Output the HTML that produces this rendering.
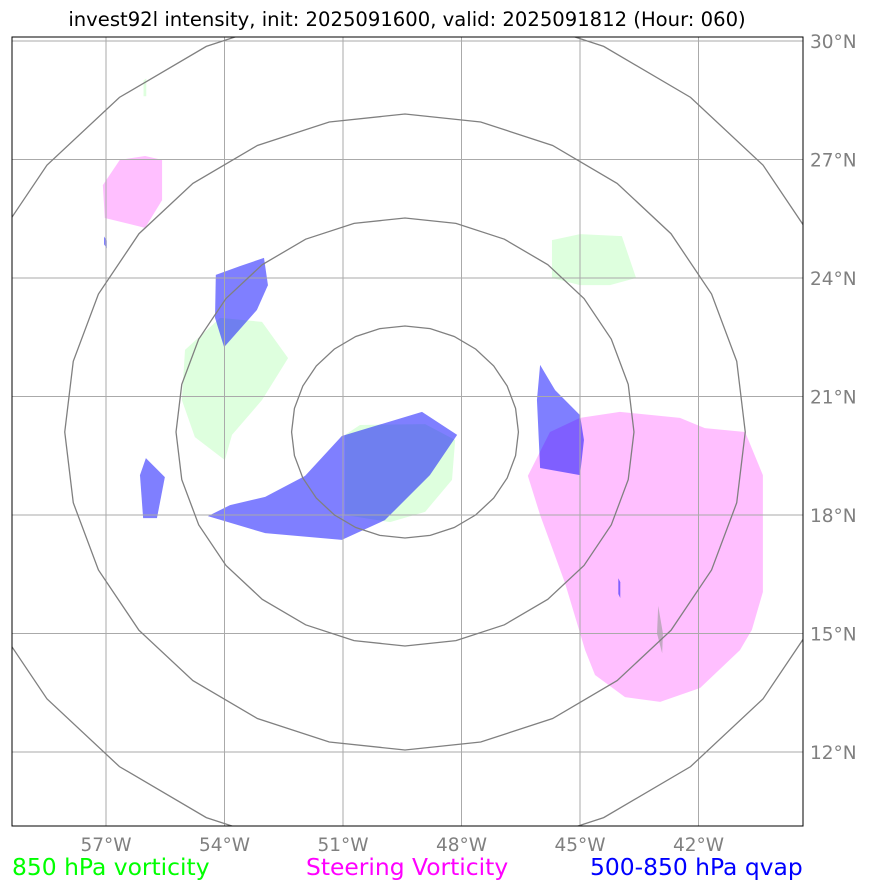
<!DOCTYPE html>
<html><head><meta charset="utf-8"><style>
body{margin:0;background:#fff;font-family:"Liberation Sans","DejaVu Sans",sans-serif}
svg text{font-family:"DejaVu Sans","Liberation Sans",sans-serif}
</style></head><body>
<svg id="chart" width="873" height="891">
<text x="407" y="26" font-size="19.6" text-anchor="middle">invest92l intensity, init: 2025091600, valid: 2025091812 (Hour: 060)</text>
<g id="plot"></g>
<rect x="12" y="37" width="791" height="789" fill="none" stroke="#000" stroke-width="1"/>
<text x="12" y="875" font-size="23.4" fill="#00ff00">850 hPa vorticity</text>
<text x="306" y="875" font-size="23.4" fill="#ff00ff">Steering Vorticity</text>
<text x="590" y="875" font-size="23.4" fill="#0000ff">500-850 hPa qvap</text>
</svg>
<script>
const lonTicks=[-57,-54,-51,-48,-45,-42];
const latTicks=[30,27,24,21,18,15,12];
const ringRadii=[106,214,318,428];
const greenLon1=[-45.71,-45.0,-43.94,-43.58,-44.24,-45.0,-45.71];
const greenLat1=[24.96,25.11,25.06,24.0,23.82,23.82,24.0];
const greenLon2=[-55.0,-54.11,-53.05,-52.39,-53.05,-53.81,-53.99,-54.75,-55.08];
const greenLat2=[22.18,22.99,22.89,21.97,20.91,20.03,19.39,19.97,20.91];
const greenLon3=[-50.95,-50.57,-48.92,-48.16,-48.24,-48.92,-49.81,-50.95];
const greenLat3=[20.03,20.28,20.30,19.90,18.89,18.08,17.82,18.0];
const greenLon4=[-56.05,-55.98,-55.98,-56.05];
const greenLat4=[29.0,29.05,28.6,28.6];
const magLon1=[-46.32,-46.01,-45.38,-44.87,-44.62,-43.86,-42.97,-41.96,-40.95,-40.65,-40.37,-40.37,-40.82,-41.84,-42.47,-43.99,-45.0,-45.76];
const magLat1=[18.99,18.0,16.28,14.58,13.95,13.39,13.27,13.62,14.58,15.09,16.05,19.01,20.10,20.20,20.46,20.61,20.46,20.10];
const magLon2=[-57.08,-56.65,-56.01,-55.58,-55.58,-56.01,-57.03];
const magLat2=[26.35,26.99,27.09,26.99,25.97,25.27,25.52];
const blueLon1=[-54.42,-53.86,-52.97,-51.96,-51.03,-49.0,-48.11,-48.8,-49.94,-51.03,-52.97];
const blueLat1=[17.97,18.25,18.46,18.99,20.0,20.61,20.03,19.01,17.87,17.37,17.54];
const blueLon2=[-54.22,-53.61,-53.0,-52.9,-53.18,-54.01,-54.24];
const blueLat2=[24.08,24.30,24.51,23.82,23.19,22.25,22.99];
const blueLon3=[-55.99,-55.51,-55.71,-56.06,-56.14];
const blueLat3=[19.44,18.96,17.92,17.92,19.01];
const blueLon4=[-46.01,-45.63,-45.0,-44.90,-45.0,-46.01,-46.09];
const blueLat4=[21.80,21.16,20.53,19.90,19.01,19.19,20.91];
const blueLon5=[-57.05,-56.98,-56.98,-57.05];
const blueLat5=[25.05,24.95,24.75,24.85];
const blueLon6=[-44.03,-43.98,-43.98,-44.03];
const blueLat6=[16.4,16.3,15.9,16.0];
const grayLon1=[-43.02,-42.9,-42.92,-43.05];
const grayLat1=[15.7,15.0,14.5,15.0];

const X=lon=>106+(lon+57)*39.5;
const Y=lat=>41+(30-lat)*39.5;
const NS='http://www.w3.org/2000/svg';
const plot=document.getElementById('plot');
const cx=405,cy=432,ratio=1.07;
function mk(t,a){const e=document.createElementNS(NS,t);for(const k in a)e.setAttribute(k,a[k]);return e;}
const cp=mk('clipPath',{id:'clip'});cp.appendChild(mk('rect',{x:12,y:37,width:791,height:789}));plot.appendChild(cp);
const g=mk('g',{'clip-path':'url(#clip)'});plot.appendChild(g);
function poly(lons,lats,fill,op,name){
  const p=mk('polygon',{points:lons.map((l,i)=>X(l)+','+Y(lats[i])).join(' '),fill:fill,'fill-opacity':op});
  
  
  g.appendChild(p);
}
poly(greenLon1,greenLat1,'#00ff00',0.13,'vorticity-850-area');
poly(greenLon2,greenLat2,'#00ff00',0.13,'vorticity-850-area');
poly(greenLon3,greenLat3,'#00ff00',0.13,'vorticity-850-area');
poly(greenLon4,greenLat4,'#00ff00',0.13,'vorticity-850-area');
poly(magLon1,magLat1,'#ff00ff',0.25,'steering-vorticity-area');
poly(magLon2,magLat2,'#ff00ff',0.25,'steering-vorticity-area');
poly(grayLon1,grayLat1,'#999999',0.6,'small-gray-area');
poly(blueLon1,blueLat1,'#0000ff',0.5,'qvap-area');
poly(blueLon2,blueLat2,'#0000ff',0.5,'qvap-area');
poly(blueLon3,blueLat3,'#0000ff',0.5,'qvap-area');
poly(blueLon4,blueLat4,'#0000ff',0.5,'qvap-area');
poly(blueLon5,blueLat5,'#0000ff',0.5,'qvap-area');
poly(blueLon6,blueLat6,'#0000ff',0.5,'qvap-area');
lonTicks.forEach(l=>{
  const x=X(l);
  const ln=mk('line',{x1:x,x2:x,y1:37,y2:826,stroke:'#aaa','stroke-width':1});
  
  
  g.appendChild(ln);
  const t=mk('text',{x:x,y:851,'font-size':18.5,fill:'#808080','text-anchor':'middle'});
  t.textContent=(-l)+'°W';
  
  
  plot.appendChild(t);
});
latTicks.forEach(l=>{
  const y=Y(l);
  const ln=mk('line',{x1:12,x2:803,y1:y,y2:y,stroke:'#aaa','stroke-width':1});
  
  
  g.appendChild(ln);
  const t=mk('text',{x:810,y:y+7,'font-size':18.5,fill:'#808080'});
  t.textContent=l+'°N';
  
  
  plot.appendChild(t);
});
ringRadii.forEach(r=>{
  const pts=[];
  for(let i=0;i<28;i++){const a=i/28*2*Math.PI;pts.push((cx+r*ratio*Math.cos(a))+','+(cy+r*Math.sin(a)));}
  const p=mk('polygon',{points:pts.join(' '),fill:'none',stroke:'#808080','stroke-width':1.3});
  
  
  g.appendChild(p);
});
</script>
</body></html>
